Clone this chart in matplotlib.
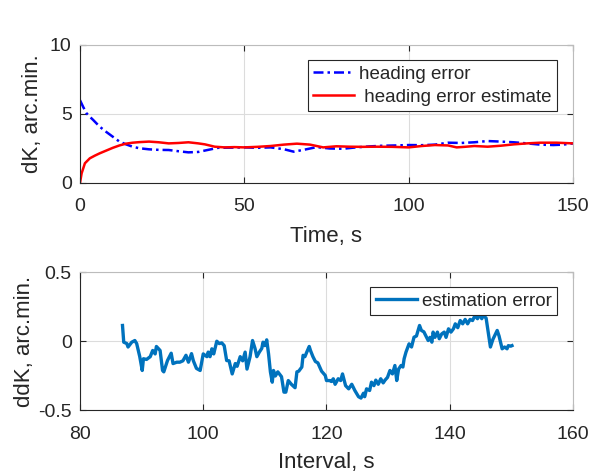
#!/usr/bin/env python3

import matplotlib
matplotlib.use('Agg')
import matplotlib.pyplot as plt

# heading error (blue, dash-dot)
t_err = [0, 1, 2, 3, 4, 6, 8, 10, 12, 14, 16, 18, 21, 24, 27, 30, 33, 36,
         39, 42, 46, 50, 54, 58, 62, 65, 68, 72, 76, 80, 84, 88, 92, 96,
         100, 104, 108, 112, 116, 120, 124, 128, 132, 136, 140, 144, 147, 150]
heading_err = [6.0, 5.5, 5.05, 4.8, 4.57, 4.08, 3.7, 3.35, 3.0, 2.8, 2.63,
               2.52, 2.44, 2.4, 2.39, 2.3, 2.22, 2.25, 2.4, 2.55, 2.56, 2.58,
               2.55, 2.58, 2.45, 2.27, 2.4, 2.6, 2.5, 2.48, 2.58, 2.65, 2.7,
               2.72, 2.75, 2.74, 2.78, 2.92, 2.9, 2.95, 3.04, 3.0, 2.95, 2.87,
               2.78, 2.75, 2.78, 2.87]

# heading error estimate (red, solid)
t_est = [0, 0.5, 1.5, 3, 4.5, 6, 8, 10, 12, 14, 16, 18, 21, 24, 27, 30, 33,
         36, 38, 41, 44, 47, 50, 54, 58, 62, 66, 70, 74, 78, 82, 86, 90, 95,
         100, 104, 108, 112, 114.6, 117, 120, 124, 128, 132, 136, 140, 145, 150]
heading_est = [0, 0.7, 1.43, 1.79, 1.98, 2.15, 2.35, 2.55, 2.72, 2.85, 2.92,
               2.96, 3.0, 2.95, 2.87, 2.9, 2.95, 2.87, 2.8, 2.63, 2.58, 2.6,
               2.58, 2.62, 2.68, 2.78, 2.85, 2.78, 2.58, 2.66, 2.63, 2.62,
               2.63, 2.62, 2.58, 2.68, 2.75, 2.72, 2.58, 2.62, 2.68, 2.63,
               2.7, 2.8, 2.87, 2.92, 2.92, 2.87]

# estimation error over interval
t_int = [86.9, 87.1, 87.6, 87.8, 88.4, 88.9, 89.2, 89.7, 90.1, 90.3, 90.8,
         91.4, 91.8, 92.2, 92.4, 93.0, 93.4, 93.6, 94.2, 94.8, 95.1, 95.7,
         96.2, 96.7, 97.2, 97.6, 98.1, 98.4, 98.9, 99.5, 100.0, 100.6, 100.8,
         101.1, 101.4, 101.7, 102.2, 102.6, 103.0, 103.4, 103.8, 104.2, 104.7,
         105.2, 105.5, 106.0, 106.4, 106.8, 107.1, 107.6, 108.0, 108.4, 108.7,
         109.1, 109.5, 109.7, 110.0, 110.3, 110.6, 110.9, 111.2, 111.4, 111.7,
         112.1, 112.7, 113.1, 113.4, 113.8, 114.3, 114.9, 115.2, 115.5, 116.0,
         116.2, 116.5, 116.8, 117.2, 117.4, 117.8, 118.2, 118.6, 118.9, 119.2,
         119.8, 120.0, 120.5, 120.8, 121.1, 121.4, 121.9, 122.3, 122.6, 123.1,
         123.6, 124.1, 124.6, 125.2, 125.6, 126.0, 126.2, 126.5, 127.0, 127.3,
         127.7, 128.0, 128.4, 128.8, 129.2, 129.5, 129.9, 130.3, 130.7, 131.1,
         131.4, 131.7, 132.1, 132.4, 132.6, 132.9, 133.4, 133.8, 134.2, 134.6,
         135.1, 135.4, 135.8, 136.1, 136.5, 136.8, 137.1, 137.3, 137.6, 138.0,
         138.3, 138.7, 139.1, 139.4, 139.8, 140.2, 140.6, 140.9, 141.3, 141.7,
         142.1, 142.5, 142.9, 143.3, 143.7, 144.1, 144.5, 144.8, 145.2, 145.4,
         145.9, 146.6, 147.0, 147.7, 148.0, 148.5, 148.9, 149.3, 149.5, 149.9,
         150.1]
est_err = [0.116, -0.005, -0.015, -0.04, -0.005, 0.007, -0.015, -0.11, -0.21,
           -0.125, -0.13, -0.11, -0.065, -0.09, -0.036, -0.065, -0.21, -0.22,
           -0.138, -0.085, -0.16, -0.15, -0.15, -0.14, -0.10, -0.15, -0.088,
           -0.14, -0.195, -0.21, -0.09, -0.11, -0.077, -0.11, -0.053, -0.09,
           0.002, -0.015, -0.01, -0.03, -0.138, -0.14, -0.235, -0.16, -0.18,
           -0.11, -0.14, -0.077, -0.2, -0.11, 0.007, -0.05, -0.11, -0.077,
           -0.05, -0.005, -0.03, 0.012, -0.09, -0.22, -0.295, -0.21, -0.25,
           -0.22, -0.255, -0.367, -0.367, -0.283, -0.31, -0.335, -0.22,
           -0.215, -0.185, -0.10, -0.11, -0.077, -0.036, -0.065, -0.11,
           -0.145, -0.155, -0.185, -0.215, -0.246, -0.283, -0.283, -0.29,
           -0.27, -0.31, -0.27, -0.283, -0.235, -0.32, -0.343, -0.31, -0.355,
           -0.40, -0.41, -0.375, -0.40, -0.343, -0.355, -0.295, -0.32, -0.28,
           -0.31, -0.27, -0.30, -0.28, -0.26, -0.21, -0.235, -0.174, -0.283,
           -0.2, -0.174, -0.185, -0.125, -0.077, -0.017, -0.04, 0.031, 0.04,
           0.116, 0.08, 0.07, 0.043, 0.007, 0.03, -0.005, 0.068, 0.03, 0.068,
           0.02, 0.055, 0.068, 0.03, 0.092, 0.068, 0.092, 0.128, 0.1, 0.152,
           0.128, 0.16, 0.128, 0.16, 0.152, 0.188, 0.165, 0.195, 0.165, 0.188,
           0.17, -0.04, 0.015, 0.08, 0.04, -0.053, -0.04, -0.053, -0.03,
           -0.034, -0.03]

DARK = '#262626'
GRID = '#dcdcdc'

plt.rcParams['font.family'] = ['Liberation Sans', 'DejaVu Sans']
plt.rcParams['axes.unicode_minus'] = False
plt.rcParams['text.color'] = DARK


def style_axes(ax):
    ax.grid(True, color=GRID, linewidth=0.8)
    ax.set_axisbelow(True)
    ax.tick_params(direction='in', length=4, width=0.8, labelsize=14,
                   colors=DARK, top=True, right=True, pad=6)
    ax.tick_params(axis='x', pad=11)
    for side in ('left', 'bottom'):
        ax.spines[side].set_color(DARK)
        ax.spines[side].set_linewidth(0.8)
    for side in ('top', 'right'):
        ax.spines[side].set_color('#bcbcbc')
        ax.spines[side].set_linewidth(0.8)


fig = plt.figure(figsize=(5.92, 4.72), dpi=100)

ax1 = fig.add_axes([0.1351, 0.6123, 0.8328, 0.2924])
ax1.plot(t_err, heading_err, color='#0000ff', linewidth=1.8,
         linestyle=(0, (4, 1.6, 1, 1.6)), label='heading error')
ax1.plot(t_est, heading_est, color='#ff0000', linewidth=1.8,
         label=' heading error estimate')
ax1.set_xlim(0, 150)
ax1.set_ylim(0, 10)
ax1.set_xticks([0, 50, 100, 150])
ax1.set_yticks([0, 5, 10])
style_axes(ax1)
ax1.set_xlabel('Time, s', fontsize=16, color=DARK, labelpad=8)
ax1.set_ylabel('dK, arc.min.', fontsize=16, color=DARK, labelpad=5)
leg1 = ax1.legend(loc='upper right', bbox_to_anchor=(0.968, 0.891),
                  borderaxespad=0, fontsize=13.5, fancybox=False,
                  framealpha=1, edgecolor=DARK, handlelength=2.2,
                  handletextpad=0.25, labelspacing=0.3, borderpad=0.3)
leg1.get_frame().set_linewidth(0.8)

ax2 = fig.add_axes([0.1351, 0.1303, 0.8328, 0.2924])
ax2.plot(t_int, est_err, color='#0072bd', linewidth=2.4,
         label='estimation error')
ax2.set_xlim(80, 160)
ax2.set_ylim(-0.5, 0.5)
ax2.set_xticks([80, 100, 120, 140, 160])
ax2.set_yticks([-0.5, 0, 0.5])
ax2.set_yticklabels(['-0.5', '0', '0.5'])
style_axes(ax2)
ax2.set_xlabel('Interval, s', fontsize=16, color=DARK, labelpad=7)
ax2.set_ylabel('ddK, arc.min.', fontsize=16, color=DARK, labelpad=2)
leg2 = ax2.legend(loc='upper right', bbox_to_anchor=(0.968, 0.895),
                  borderaxespad=0, fontsize=13.5, fancybox=False,
                  framealpha=1, edgecolor=DARK, handlelength=2.2,
                  handletextpad=0.25, borderpad=0.3)
leg2.get_frame().set_linewidth(0.8)

fig.savefig('out.png', dpi=100)
